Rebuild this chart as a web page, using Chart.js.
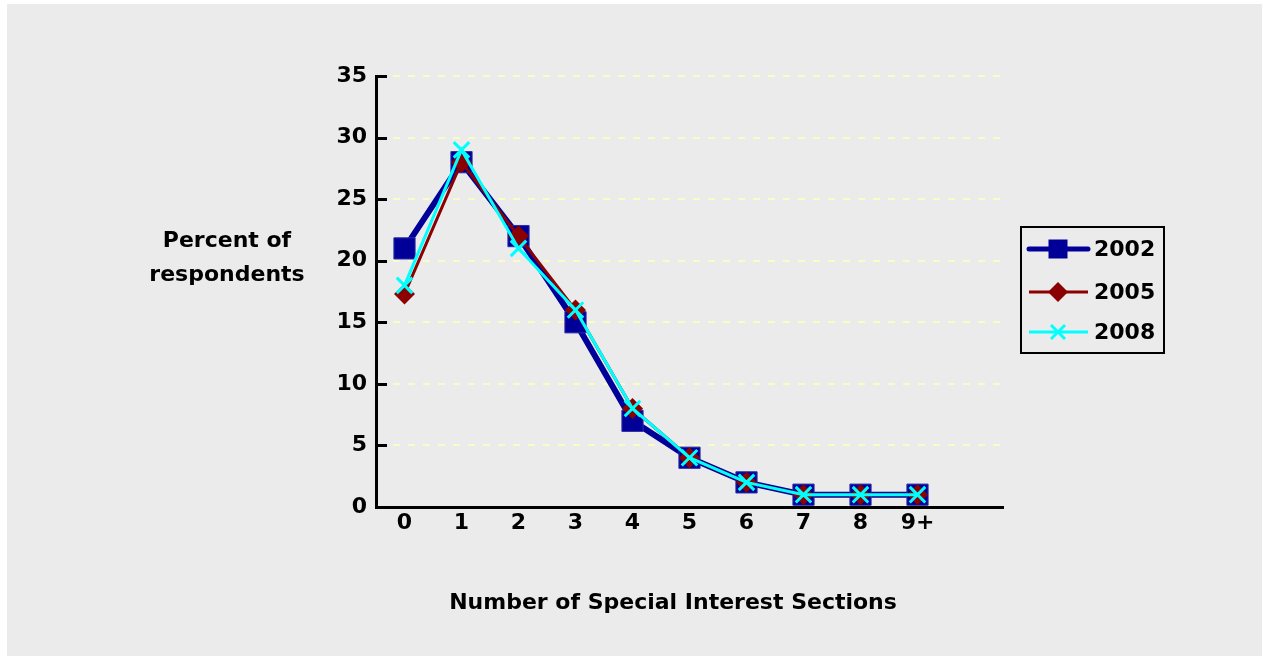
<!DOCTYPE html>
<html>
<head>
<meta charset="utf-8">
<title>Special Interest Sections</title>
<script src="https://cdn.jsdelivr.net/npm/chart.js@4.4.0/dist/chart.umd.min.js"></script>
<style>
  html, body { margin: 0; padding: 0; background: #ffffff; }
  #panel { position: absolute; left: 7px; top: 4px; width: 1255px; height: 652px; background: #ebebeb; }
  #wrap { position: absolute; left: 0; top: 0; width: 1262px; height: 656px; }
</style>
</head>
<body>
<div id="panel"></div>
<div id="wrap"><canvas id="chart" width="1262" height="656"></canvas></div>
<script>
// Categories on the horizontal axis (the last, empty slot leaves room on the right)
const categories = ['0', '1', '2', '3', '4', '5', '6', '7', '8', '9+', ''];

// Survey years
const years = ['2002', '2005', '2008'];

// Percent of respondents per number of sections joined
const values2002 = [21, 28, 22, 15, 7, 4, 2, 1, 1, 1];
const values2005 = [17.3, 28, 22, 16, 8, 4, 2, 1, 1, 1];
const values2008 = [18, 29, 21, 16, 8, 4, 2, 1, 1, 1];

// Value axis
const yMin = 0;
const yMax = 35;
const yStep = 5;

const xTitle = 'Number of Special Interest Sections';
const yTitleLines = ['Percent of', 'respondents'];

const FAMILY = '"DejaVu Sans", "Liberation Sans", Arial, sans-serif';
const TEXT_FONT = 'bold 22px ' + FAMILY;

const seriesStyles = [
  { color: '#000099', lineWidth: 6, point: 'rect', radius: 15, pointBorder: '#2e2ea8', pointBorderWidth: 1 },
  { color: '#8b0000', lineWidth: 3, point: 'rectRot', radius: 10.5, pointBorder: '#8b0000', pointBorderWidth: 0 },
  { color: '#00ffff', lineWidth: 3, point: 'crossRot', radius: 11, pointBorder: '#00ffff', pointBorderWidth: 3 }
];

const seriesValues = [values2002, values2005, values2008];

const datasets = years.map((year, i) => {
  const s = seriesStyles[i];
  return {
    label: year,
    data: seriesValues[i],
    borderColor: s.color,
    backgroundColor: s.color,
    borderWidth: s.lineWidth,
    pointStyle: s.point,
    pointRadius: s.radius,
    pointHoverRadius: s.radius,
    pointBackgroundColor: s.color,
    pointBorderColor: s.pointBorder,
    pointBorderWidth: s.pointBorderWidth,
    tension: 0,
    fill: false,
    // later years are drawn on top
    order: years.length - i
  };
});

// Short marks pointing into the plot at every value tick
const innerTicks = {
  id: 'innerTicks',
  beforeDatasetsDraw(chart) {
    const { ctx, chartArea, scales } = chart;
    const y = scales.y;
    ctx.save();
    ctx.strokeStyle = '#000000';
    ctx.lineWidth = 3;
    y.ticks.forEach(t => {
      const py = Math.round(y.getPixelForValue(t.value)) + 0.5;
      ctx.beginPath();
      ctx.moveTo(chartArea.left, py);
      ctx.lineTo(chartArea.left + 11, py);
      ctx.stroke();
    });
    ctx.restore();
  }
};

function drawMarker(ctx, style, x, y, size) {
  ctx.save();
  ctx.fillStyle = style.color;
  ctx.strokeStyle = style.color;
  if (style.point === 'rect') {
    ctx.fillRect(x - size / 2, y - size / 2, size, size);
  } else if (style.point === 'rectRot') {
    ctx.beginPath();
    ctx.moveTo(x, y - size / 2);
    ctx.lineTo(x + size / 2, y);
    ctx.lineTo(x, y + size / 2);
    ctx.lineTo(x - size / 2, y);
    ctx.closePath();
    ctx.fill();
  } else {
    const h = size / 2;
    ctx.lineWidth = 3;
    ctx.beginPath();
    ctx.moveTo(x - h, y - h); ctx.lineTo(x + h, y + h);
    ctx.moveTo(x + h, y - h); ctx.lineTo(x - h, y + h);
    ctx.stroke();
  }
  ctx.restore();
}

// Axis titles and the boxed legend
const annotations = {
  id: 'annotations',
  afterDraw(chart) {
    const { ctx } = chart;
    ctx.save();
    ctx.fillStyle = '#000000';
    ctx.font = TEXT_FONT;
    ctx.textBaseline = 'middle';

    // value axis title, horizontal, two lines
    ctx.textAlign = 'center';
    ctx.fillText(yTitleLines[0], 227, 241);
    ctx.fillText(yTitleLines[1], 227, 275);

    // category axis title
    ctx.fillText(xTitle, 673, 603);

    // legend box
    const box = { x: 1021, y: 227, w: 143, h: 126 };
    ctx.lineWidth = 2;
    ctx.strokeStyle = '#000000';
    ctx.strokeRect(box.x, box.y, box.w, box.h);

    const rows = [249, 292, 332];
    const markerSizes = [19, 20, 14];
    years.forEach((year, i) => {
      const s = seriesStyles[i];
      const ry = rows[i];
      ctx.save();
      ctx.strokeStyle = s.color;
      ctx.lineWidth = i === 0 ? 5 : 3;
      ctx.lineCap = i === 0 ? 'round' : 'butt';
      ctx.beginPath();
      ctx.moveTo(1029, ry);
      ctx.lineTo(1088, ry);
      ctx.stroke();
      ctx.restore();
      drawMarker(ctx, s, 1058, ry, markerSizes[i]);
      ctx.fillStyle = '#000000';
      ctx.textAlign = 'left';
      ctx.fillText(year, 1094, ry + 1);
    });
    ctx.restore();
  }
};

const tickFont = { family: FAMILY, size: 22, weight: 'bold' };

new Chart(document.getElementById('chart'), {
  type: 'line',
  data: { labels: categories, datasets: datasets },
  options: {
    responsive: false,
    animation: false,
    devicePixelRatio: 1,
    layout: { padding: { left: 286, right: 259, top: 76, bottom: 109 } },
    plugins: {
      legend: { display: false },
      tooltip: { enabled: false },
      title: { display: false }
    },
    scales: {
      x: {
        type: 'category',
        offset: true,
        grid: { display: false, drawTicks: false },
        border: { display: true, color: '#000000', width: 3 },
        ticks: { color: '#000000', font: tickFont, padding: 3, maxRotation: 0, autoSkip: false },
        afterFit(scale) { scale.height = 40; }
      },
      y: {
        min: yMin,
        max: yMax,
        ticks: { stepSize: yStep, color: '#000000', font: tickFont, padding: 9 },
        grid: { color: '#fbfbc6', lineWidth: 2, drawTicks: false },
        border: { display: true, color: '#000000', width: 3, dash: [7, 8] },
        afterFit(scale) { scale.width = 90; }
      }
    }
  },
  plugins: [innerTicks, annotations]
});
</script>
</body>
</html>
